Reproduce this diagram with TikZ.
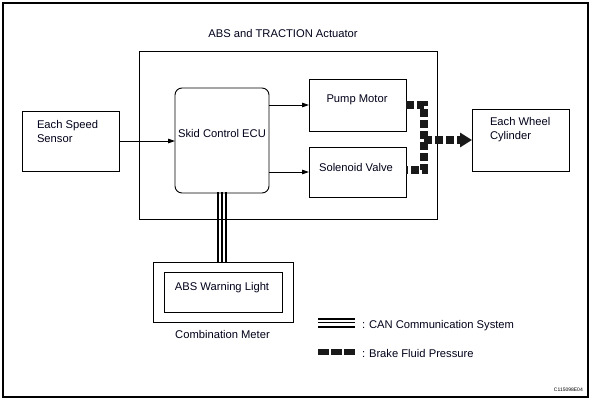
\documentclass[tikz,border=0pt]{standalone}
\usepackage{fontspec}
\setmainfont{Liberation Sans}
\usetikzlibrary{arrows.meta,backgrounds,calc}
\begin{document}
\begin{tikzpicture}[x=1pt,y=-1pt,
  box/.style={draw=black, line width=0.9pt, inner sep=0pt, outer sep=0pt, anchor=north west},
  txt/.style={inner sep=0pt, outer sep=0pt, font=\fontsize{11.2}{14}\selectfont, text=black!90!blue},
  thinarrow/.style={draw=black, line width=0.8pt, -{Triangle[length=7pt,width=4.5pt]}},
  canline/.style={draw=black, line width=10pt, postaction={draw=white, line width=6pt}, postaction={draw=black, line width=1.4pt}},
  fluid/.style={draw=black!90, line width=7.8pt, dash pattern=on 8pt off 3pt, line join=miter},
  fluidarrow/.style={fluid, -{Triangle[length=12pt,width=14pt]}}
]
\useasboundingbox (0,0) rectangle (593,402);
\draw[line width=1.4pt] (3,3) rectangle (588,397);

% title
\node[txt, anchor=base] (title) at (283,37) {ABS and TRACTION Actuator};

% boxes
\node[box, minimum width=298pt, minimum height=168pt] (act) at (139,51) {};
\node[box, minimum width=97pt, minimum height=60pt] (sensor) at (22,111) {};
\node[box, rounded corners=7pt, minimum width=94pt, minimum height=105pt] (ecu) at (175,88) {};
\node[box, minimum width=97pt, minimum height=52pt] (pump) at (309,79) {};
\node[box, minimum width=97pt, minimum height=50pt] (sol) at (309,147) {};
\node[box, minimum width=97pt, minimum height=62pt] (wheel) at (472,109) {};
\node[box, minimum width=140pt, minimum height=60pt] (meter) at (153,262) {};
\node[box, minimum width=118pt, minimum height=40pt] (light) at (164,272) {};

% texts
\node[txt, anchor=base west] (s1) at (37,128) {Each Speed};
\node[txt, anchor=base west] (s2) at (37,142) {Sensor};
\node[txt, anchor=base] (e1) at (222,137) {Skid Control ECU};
\node[txt, anchor=base] (p1) at (357,102) {Pump Motor};
\node[txt, anchor=base] (v1) at (356,171) {Solenoid Valve};
\node[txt, anchor=base west] (w1) at (490,125) {Each Wheel};
\node[txt, anchor=base west] (w2) at (490,139) {Cylinder};
\node[txt, anchor=base] (l1) at (222,290) {ABS Warning Light};
\node[txt, anchor=base] (m1) at (222.5,338) {Combination Meter};

% connectors
\draw[thinarrow] (sensor.east) -- (sensor.east -| ecu.west);
\draw[thinarrow] (ecu.east |- pump.west) -- (pump.west);
\draw[thinarrow] (ecu.east |- sol.west) -- (sol.west);

\coordinate (jn) at (424,140);
\draw[fluid] (pump.east) -- (jn |- pump.east) -- ($(jn |- sol.east)+(0,-2)$) -- ($(sol.east)+(0,-2)$);
\draw[fluidarrow] (jn) -- (wheel.west);

\begin{scope}[on background layer]
  \draw[canline] ($(ecu.south)+(0,-1)$) -- (ecu.south |- meter.north);
\end{scope}

% legend
\coordinate (lc1) at (318,322.5);
\coordinate (lc2) at (355,322.5);
\draw[canline] (lc1) -- (lc2);
\node[txt, anchor=base west] (lt1) at (362,328) {:\hspace{0.35em}CAN Communication System};
\coordinate (lf1) at (318,352);
\coordinate (lf2) at (355,352);
\draw[fluid, line width=6pt, dash pattern=on 10.5pt off 2.5pt] (lf1) -- (lf2);
\node[txt, anchor=base west] (lt2) at (362,357) {:\hspace{0.35em}Brake Fluid Pressure};

\node[inner sep=0pt, anchor=base east, font=\fontsize{5}{6}\selectfont] (code) at (583,391) {C115098E04};
\end{tikzpicture}
\end{document}
